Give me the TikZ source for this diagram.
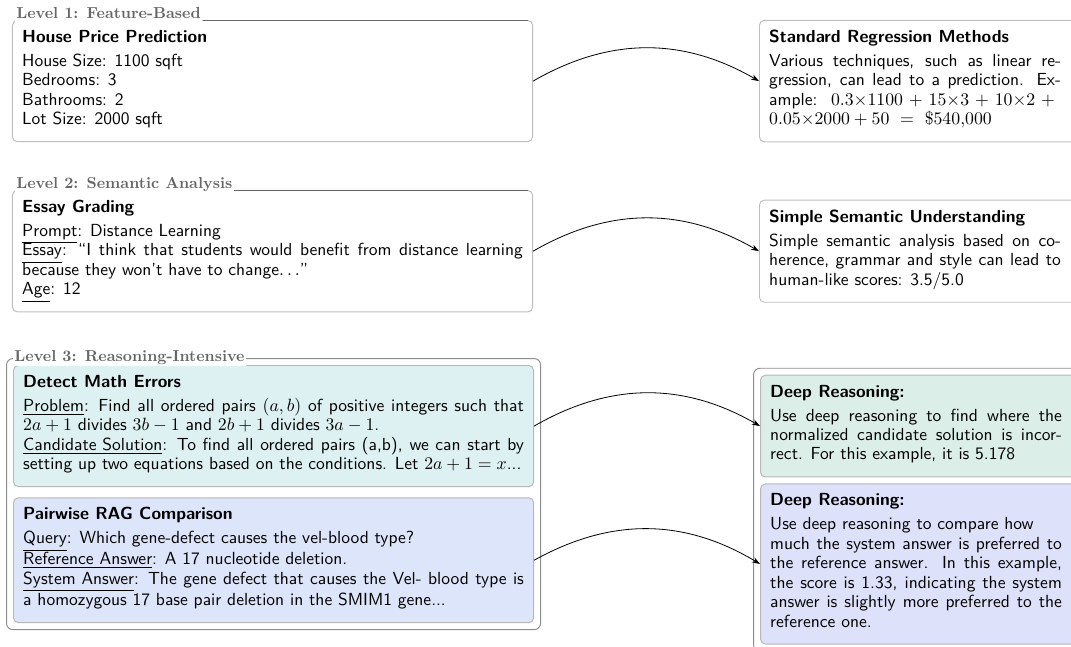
\documentclass[tikz,border=0pt]{standalone}
\usepackage{amsmath}
\usetikzlibrary{positioning,fit,arrows.meta,calc}

\definecolor{mathfill}{RGB}{221,241,243}
\definecolor{mathfillr}{RGB}{220,238,232}
\definecolor{ragfill}{RGB}{221,229,250}
\definecolor{ragfillr}{RGB}{221,225,250}
\definecolor{boxline}{RGB}{190,190,190}

\tikzset{
  card/.style={draw=boxline, line width=0.6pt, rounded corners=3pt,
    inner xsep=6pt, inner ysep=6pt, font=\fontsize{10.8}{12}\selectfont\sffamily, anchor=north west},
  lcard/.style={card, text width=309pt, align=justify,
    execute at end node={\rule[-4.5pt]{0pt}{0pt}}},
  rcard/.style={card, text width=200pt, align=justify,
    execute at begin node={\begin{minipage}[t]{180pt}},
    execute at end node={\rule[-4.5pt]{0pt}{0pt}\end{minipage}}},
  outer/.style={draw=black!45, line width=0.6pt, rounded corners=4pt, inner sep=4pt},
  level/.style={font=\fontsize{9.8}{11}\selectfont\bfseries, text=black!60, fill=white, inner sep=1pt, text depth=2pt},
  rule/.style={draw=black!60, line width=0.5pt},
  flow/.style={-{Stealth[length=5pt,width=3.5pt]}, line width=0.5pt, bend left=30},
}

\begin{document}
\begin{tikzpicture}
  \useasboundingbox (0,0) rectangle (23.23,-14.03);
  % level 1
  \node[lcard] (hpp) at (0.26,-0.434) {\textbf{House Price Prediction}\\[2.8pt]
    House Size: 1100 sqft\\
    Bedrooms: 3\\
    Bathrooms: 2\\
    Lot Size: 2000 sqft};
  \node[rcard, right=4.9cm of hpp] (srm) {\textbf{Standard Regression Methods}\\[2.8pt]
    Various techniques, such as linear re-\linebreak
    gression, can lead to a prediction. Ex-\linebreak
    ample: $0.3{\times}1100 + 15{\times}3 + 10{\times}2 +{}$\linebreak
    $0.05{\times}2000 + 50 \ = \ \$540{,}000$};
  \node[level, anchor=base west] (lv1) at ([xshift=1.5pt,yshift=1pt]hpp.north west) {Level 1: Feature-Based};
  \draw[rule] (lv1.east |- hpp.north) -- ([xshift=-3pt]hpp.north east);
  \draw[flow] (hpp.east) to (srm.west);

  % level 2
  \node[lcard] (essay) at (0.26,-4.121) {\textbf{Essay Grading}\\[2.8pt]
    \underline{Prompt}: Distance Learning\\
    \underline{Essay}: ``I think that students would benefit from distance learning\linebreak
    because they won't have to change$\ldots$''\\
    \underline{Age}: 12};
  \node[rcard, right=4.9cm of essay] (ssu) {\textbf{Simple Semantic Understanding}\\[2.8pt]
    Simple semantic analysis based on co-\linebreak
    herence, grammar and style can lead to\linebreak
    human-like scores: 3.5/5.0};
  \node[level, anchor=base west] (lv2) at ([xshift=1.5pt,yshift=1pt]essay.north west) {Level 2: Semantic Analysis};
  \draw[rule] (lv2.east |- essay.north) -- ([xshift=-3pt]essay.north east);
  \draw[flow] (essay.east) to (ssu.west);

  % level 3
  \node[lcard, fill=mathfill, draw=black!28] (dme) at (0.282,-7.917) {\textbf{Detect Math Errors}\\[2.8pt]
    \underline{Problem}: Find all ordered pairs $(a,b)$ of positive integers such that\linebreak
    $2a+1$ divides $3b-1$ and $2b+1$ divides $3a-1$.\\
    \underline{Candidate Solution}: To find all ordered pairs (a,b), we can start by\linebreak
    setting up two equations based on the conditions. Let $2a+1=x$...};
  \node[lcard, fill=ragfill, draw=black!28, below=0.22cm of dme] (rag) {\textbf{Pairwise RAG Comparison}\\[2.8pt]
    \underline{Query}: Which gene-defect causes the vel-blood type?\\
    \underline{Reference Answer}: A 17 nucleotide deletion.\\
    \underline{System Answer}: The gene defect that causes the Vel- blood type is\linebreak
    a homozygous 17 base pair deletion in the SMIM1 gene...};
  \node[rcard, fill=mathfillr, draw=black!28, right=4.9cm of dme] (dr1) {\textbf{Deep Reasoning:}\\[2.8pt]
    Use deep reasoning to find where the\linebreak
    normalized candidate solution is incor-\linebreak
    rect. For this example, it is 5.178};
  \node[rcard, fill=ragfillr, draw=black!28, below=0.13cm of dr1] (dr2) {\textbf{Deep Reasoning:}\\[2.8pt]
    Use deep reasoning to compare how\\
    much the system answer is preferred to\linebreak
    the reference answer. In this example,\linebreak
    the score is 1.33, indicating the system\linebreak
    answer is slightly more preferred to the\linebreak
    reference one.};
  \node[outer, fit=(dme) (rag)] (lv3l) {};
  \node[outer, fit=(dr1) (dr2)] (lv3r) {};
  \node[level, anchor=west] (lv3) at ([xshift=4pt,yshift=0.3pt]lv3l.north west) {Level 3: Reasoning-Intensive};
  \draw[flow] (dme.east) to (dr1.west);
  \draw[flow] (rag.east) to (dr2.west);
\end{tikzpicture}
\end{document}
